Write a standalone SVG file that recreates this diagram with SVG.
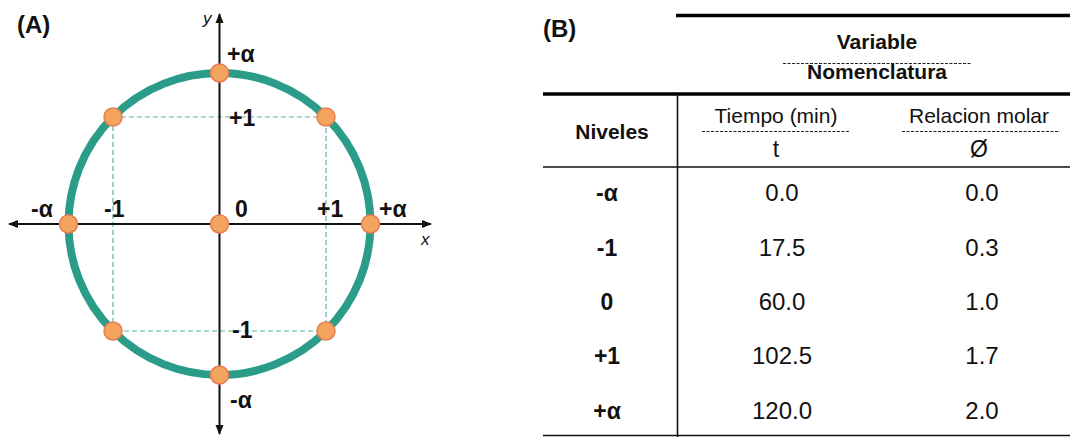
<svg xmlns="http://www.w3.org/2000/svg" width="1070" height="437" viewBox="0 0 1070 437">
  <defs>
    <marker id="arr" viewBox="0 0 10 10" refX="9" refY="5" markerWidth="5" markerHeight="5" orient="auto-start-reverse" markerUnits="strokeWidth">
      <path d="M0,1 L10,5 L0,9 Z" fill="#111"/>
    </marker>
    <style>
      .lbl{font-family:"Liberation Sans",Arial,sans-serif;font-weight:bold;font-size:23px;fill:#111}
      .pl{font-family:"Liberation Sans",Arial,sans-serif;font-weight:bold;font-size:24px;fill:#111}
      .ax{font-family:"Liberation Sans",Arial,sans-serif;font-style:italic;font-size:17px;fill:#111}
      .hb{font-family:"Liberation Sans",Arial,sans-serif;font-weight:bold;font-size:21px;fill:#111;text-anchor:middle}
      .hr{font-family:"Liberation Sans",Arial,sans-serif;font-size:21px;fill:#111;text-anchor:middle}
      .sym{font-family:"Liberation Sans",Arial,sans-serif;font-size:23px;fill:#111;text-anchor:middle}
      .dat{font-family:"Liberation Sans",Arial,sans-serif;font-size:24px;fill:#111;text-anchor:middle}
      .rl{font-family:"Liberation Sans",Arial,sans-serif;font-weight:bold;font-size:23px;fill:#111;text-anchor:middle}
      .dot{fill:#f3a45f;stroke:#ea7d4f;stroke-width:1.5}
      .guide{fill:none;stroke:#5cb3a7;stroke-width:1.2;stroke-dasharray:5 3}
      .dash{stroke:#222;stroke-width:1;stroke-dasharray:3 1.5}
      .thick{stroke:#000;stroke-width:3.5}
      .thin{stroke:#111;stroke-width:1.6}
    </style>
  </defs>
  <rect width="1070" height="437" fill="#fff"/>

  <!-- Panel A -->
  <text class="pl" x="17" y="33">(A)</text>
  <rect class="guide" x="113" y="117" width="213" height="214"/>
  <g id="connectors">
    <line x1="9" y1="224" x2="431" y2="224" stroke="#111" stroke-width="2" marker-start="url(#arr)" marker-end="url(#arr)"/>
    <line x1="219.5" y1="14" x2="219.5" y2="434" stroke="#111" stroke-width="2" marker-start="url(#arr)" marker-end="url(#arr)"/>
  </g>
  <text class="ax" x="203" y="24">y</text>
  <text class="ax" x="421" y="245">x</text>
  <circle id="circle" cx="219.5" cy="224" r="151" fill="none" stroke="#2a9c89" stroke-width="8"/>
  <g id="pt-top"><circle class="dot" cx="219.5" cy="73" r="9"/><text class="lbl" x="227" y="62">+α</text></g>
  <g id="pt-tl"><circle class="dot" cx="113" cy="117" r="9"/></g>
  <g id="pt-tr"><circle class="dot" cx="326" cy="117" r="9"/><text class="lbl" x="229" y="126">+1</text></g>
  <g id="pt-left"><circle class="dot" cx="68.5" cy="224" r="9"/><text class="lbl" x="31" y="217">-α</text></g>
  <g id="pt-center"><circle class="dot" cx="219.5" cy="224" r="9"/><text class="lbl" x="235" y="217">0</text></g>
  <g id="pt-right"><circle class="dot" cx="370.5" cy="224" r="9"/><text class="lbl" x="379" y="217">+α</text></g>
  <g id="lbl-x"><text class="lbl" x="104" y="217">-1</text><text class="lbl" x="317" y="217">+1</text></g>
  <g id="pt-bl"><circle class="dot" cx="113" cy="331" r="9"/></g>
  <g id="pt-br"><circle class="dot" cx="326" cy="331" r="9"/><text class="lbl" x="232" y="338">-1</text></g>
  <g id="pt-bottom"><circle class="dot" cx="219.5" cy="375" r="9"/><text class="lbl" x="230" y="408">-α</text></g>

  <!-- Panel B -->
  <text class="pl" x="543" y="37">(B)</text>
  <g id="table">
    <line class="thick" x1="676" y1="15.5" x2="1070" y2="15.5"/>
    <line class="thick" x1="543" y1="94" x2="1070" y2="94"/>
    <line class="thin" x1="677.5" y1="94" x2="677.5" y2="437"/>
    <line class="thin" x1="543" y1="167" x2="1070" y2="167"/>
    <line class="thin" x1="543" y1="435.5" x2="1070" y2="435.5"/>
  </g>
  <g id="hdr-variable">
    <text class="hb" x="877" y="49">Variable</text>
    <line class="dash" x1="783" y1="63.5" x2="971" y2="63.5"/>
    <text class="hb" x="877" y="79">Nomenclatura</text>
  </g>
  <g id="hdr-niveles"><text class="hb" x="612" y="139">Niveles</text></g>
  <g id="hdr-tiempo">
    <text class="hr" x="776" y="123">Tiempo (min)</text>
    <line class="dash" x1="702" y1="131.5" x2="850" y2="131.5"/>
    <text class="sym" x="776" y="157">t</text>
  </g>
  <g id="hdr-relacion">
    <text class="hr" x="979" y="123">Relacion molar</text>
    <line class="dash" x1="902" y1="131.5" x2="1060" y2="131.5"/>
    <text class="sym" x="979" y="157">Ø</text>
  </g>
  <g id="rows">
    <text class="rl" x="607" y="201">-α</text><text class="dat" x="782" y="201">0.0</text><text class="dat" x="982" y="201">0.0</text>
    <text class="rl" x="607" y="256">-1</text><text class="dat" x="782" y="256">17.5</text><text class="dat" x="982" y="256">0.3</text>
    <text class="rl" x="607" y="310">0</text><text class="dat" x="782" y="310">60.0</text><text class="dat" x="982" y="310">1.0</text>
    <text class="rl" x="607" y="364">+1</text><text class="dat" x="782" y="364">102.5</text><text class="dat" x="982" y="364">1.7</text>
    <text class="rl" x="607" y="419">+α</text><text class="dat" x="782" y="419">120.0</text><text class="dat" x="982" y="419">2.0</text>
  </g>
</svg>
